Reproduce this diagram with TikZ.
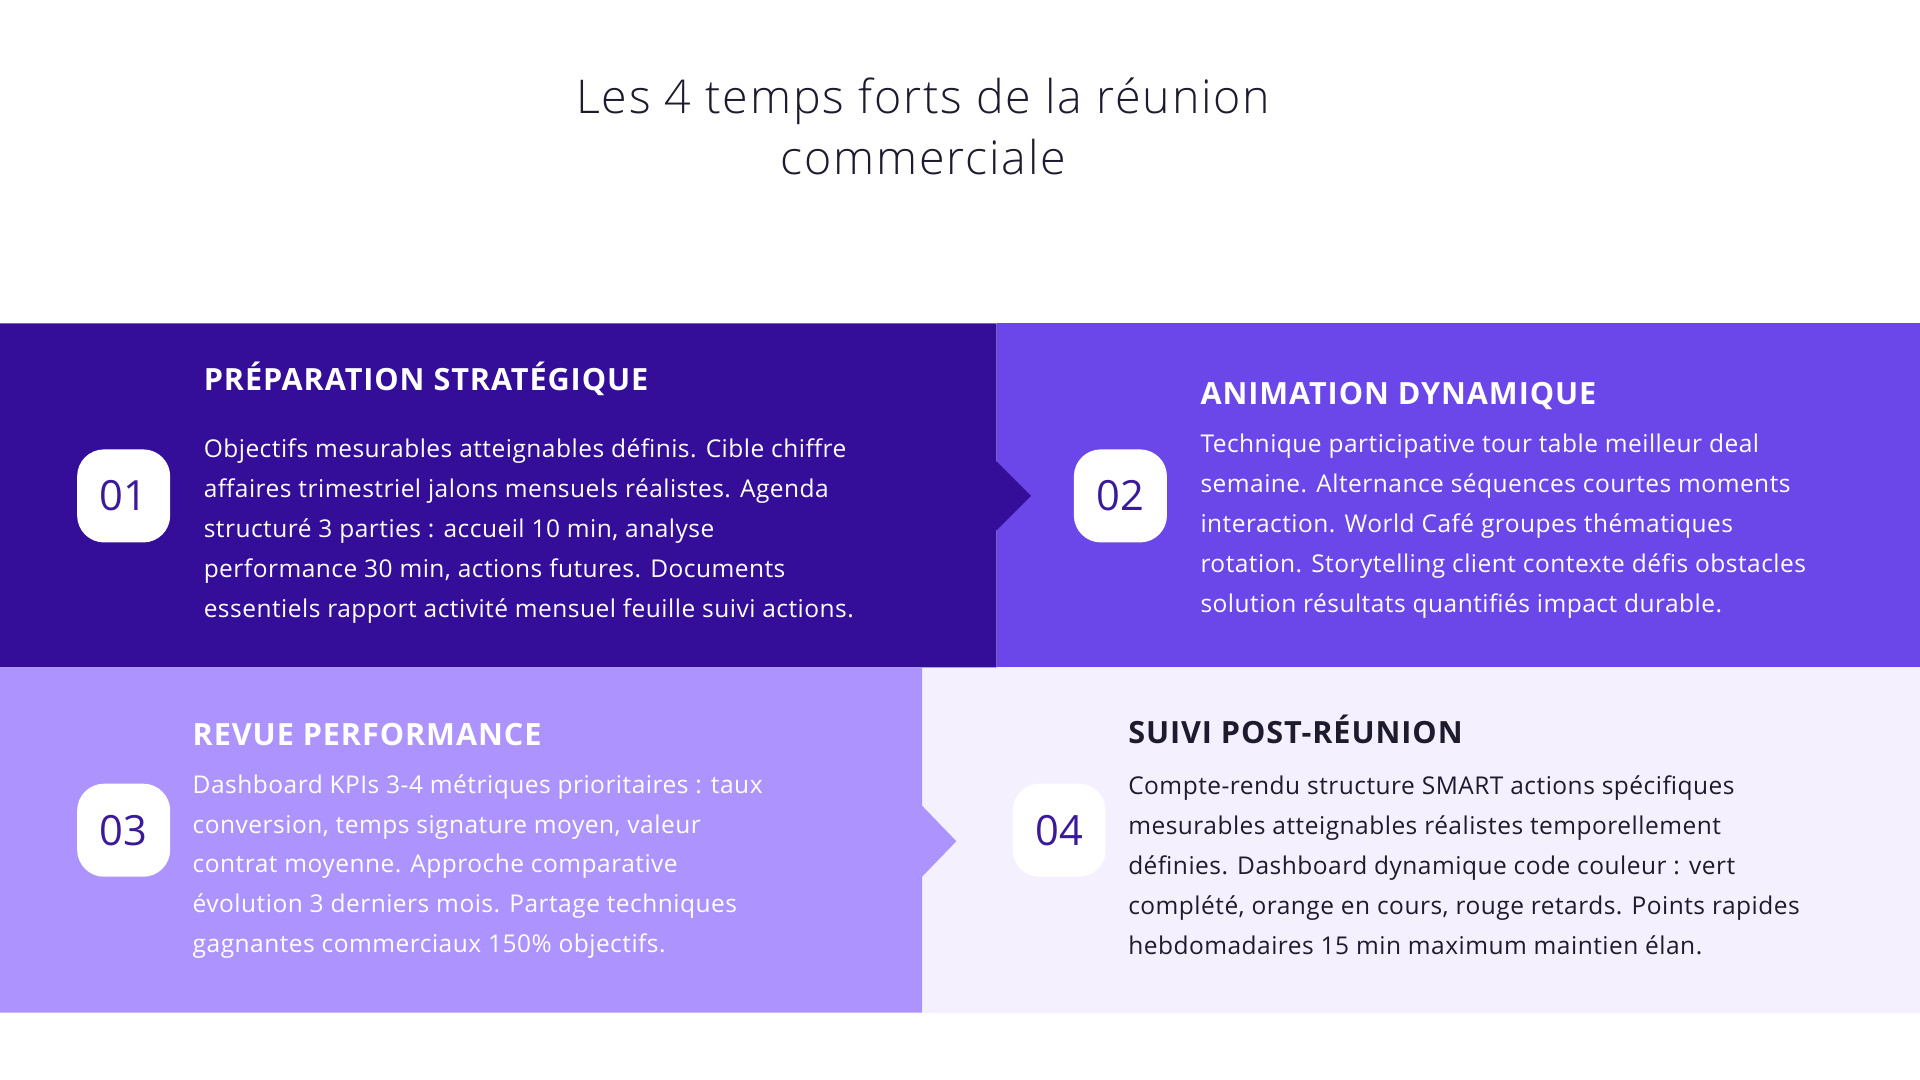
\documentclass[tikz,border=0pt]{standalone}
\usepackage{fontspec}
\setmainfont{Open Sans}
\newfontfamily\ttl[LetterSpace=4]{Open Sans Light}
\newfontfamily\bdy[LetterSpace=2]{Open Sans}
\newfontfamily\hd[LetterSpace=3]{Open Sans Bold}
\definecolor{cA}{HTML}{340E98}
\definecolor{cB}{HTML}{6B46E8}
\definecolor{cC}{HTML}{AC93FD}
\definecolor{cD}{HTML}{F5F0FE}
\definecolor{ink}{HTML}{1E1B2E}
\definecolor{num}{HTML}{3A1A9A}
\tikzset{
 head/.style={anchor=base west,inner sep=0,font=\hd\fontsize{12.5}{15}\selectfont},
 body/.style={anchor=north west,inner sep=0,align=left,font=\bdy\fontsize{10}{16.3}\selectfont},
 badge/.style={fill=white,rounded corners=11pt,minimum width=38pt,minimum height=38pt,inner sep=0,text=num,font=\fontsize{17}{20}\selectfont}
}
\begin{document}
\begin{tikzpicture}[x=0.5pt,y=-0.5pt]
\useasboundingbox (0,0) rectangle (1568,882);
\fill[white] (0,0) rectangle (1568,882);
\node[inner sep=0,align=center,text=ink,font=\ttl\fontsize{19}{25}\selectfont] (title) at (754,103) {Les 4 temps forts de la réunion\\commerciale};
\fill[cB] (814,264) rectangle (1568,545);
\fill[cD] (753,545) rectangle (1568,827);
\fill[cA] (0,264) -- (814,264) -- (814,377) -- (842,405) -- (814,433) -- (814,545) -- (0,545) -- cycle;
\fill[cC] (0,545) -- (753,545) -- (753,658) -- (781,687) -- (753,716) -- (753,827) -- (0,827) -- cycle;
\node[badge] (b1) at (101,405) {01};
\node[badge] (b2) at (915,405) {02};
\node[badge] (b3) at (101,678) {03};
\node[badge] (b4) at (865,678) {04};
\node[head,text=white] (h1) at (166,319) {PRÉPARATION STRATÉGIQUE};
\node[body,text=white] (t1) at (166,358) {Objectifs mesurables atteignables définis. Cible chiffre\\affaires trimestriel jalons mensuels réalistes. Agenda\\structuré 3 parties : accueil 10 min, analyse\\performance 30 min, actions futures. Documents\\essentiels rapport activité mensuel feuille suivi actions.};
\node[head,text=white] (h2) at (980,330) {ANIMATION DYNAMIQUE};
\node[body,text=white] (t2) at (980,354) {Technique participative tour table meilleur deal\\semaine. Alternance séquences courtes moments\\interaction. World Café groupes thématiques\\rotation. Storytelling client contexte défis obstacles\\solution résultats quantifiés impact durable.};
\node[head,text=white] (h3) at (157,609) {REVUE PERFORMANCE};
\node[body,text=white] (t3) at (157,632) {Dashboard KPIs 3-4 métriques prioritaires : taux\\conversion, temps signature moyen, valeur\\contrat moyenne. Approche comparative\\évolution 3 derniers mois. Partage techniques\\gagnantes commerciaux 150\% objectifs.};
\node[head,text=ink] (h4) at (921,607) {SUIVI POST-RÉUNION};
\node[body,text=ink] (t4) at (921,633) {Compte-rendu structure SMART actions spécifiques\\mesurables atteignables réalistes temporellement\\définies. Dashboard dynamique code couleur : vert\\complété, orange en cours, rouge retards. Points rapides\\hebdomadaires 15 min maximum maintien élan.};
\end{tikzpicture}
\end{document}
